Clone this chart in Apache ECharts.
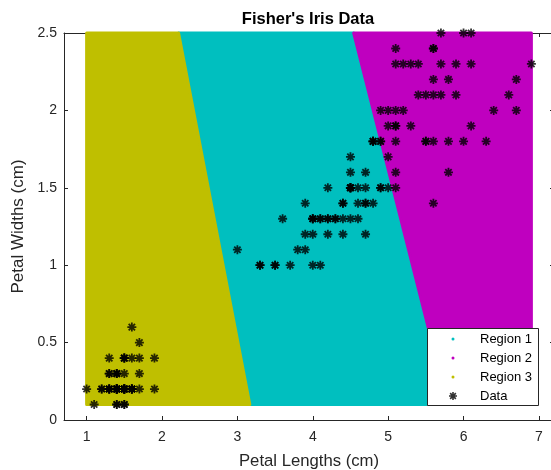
<!DOCTYPE html>
<html>
<head>
<meta charset="utf-8">
<script src="https://cdn.jsdelivr.net/npm/echarts@6/dist/echarts.min.js"></script>
<style>
html,body{margin:0;padding:0;background:#fff;}
#chart{width:551px;height:470px;}
</style>
</head>
<body>
<div id="chart"></div>
<script>
// ---- data ----
var petalLength = [
1.4,1.4,1.3,1.5,1.4,1.7,1.4,1.5,1.4,1.5,1.5,1.6,1.4,1.1,1.2,1.5,1.3,1.4,1.7,1.5,
1.7,1.5,1.0,1.7,1.9,1.6,1.6,1.5,1.4,1.6,1.6,1.5,1.5,1.4,1.5,1.2,1.3,1.4,1.3,1.5,
1.3,1.3,1.3,1.6,1.9,1.4,1.6,1.4,1.5,1.4,
4.7,4.5,4.9,4.0,4.6,4.5,4.7,3.3,4.6,3.9,3.5,4.2,4.0,4.7,3.6,4.4,4.5,4.1,4.5,3.9,
4.8,4.0,4.9,4.7,4.3,4.4,4.8,5.0,4.5,3.5,3.8,3.7,3.9,5.1,4.5,4.5,4.7,4.4,4.1,4.0,
4.4,4.6,4.0,3.3,4.2,4.2,4.2,4.3,3.0,4.1,
6.0,5.1,5.9,5.6,5.8,6.6,4.5,6.3,5.8,6.1,5.1,5.3,5.5,5.0,5.1,5.3,5.5,6.7,6.9,5.0,
5.7,4.9,6.7,4.9,5.7,6.0,4.8,4.9,5.6,5.8,6.1,6.4,5.6,5.1,5.6,6.1,5.6,5.5,4.8,5.4,
5.6,5.1,5.1,5.9,5.7,5.2,5.0,5.2,5.4,5.1
];
var petalWidth = [
0.2,0.2,0.2,0.2,0.2,0.4,0.3,0.2,0.2,0.1,0.2,0.2,0.1,0.1,0.2,0.4,0.4,0.3,0.3,0.3,
0.2,0.4,0.2,0.5,0.2,0.2,0.4,0.2,0.2,0.2,0.2,0.4,0.1,0.2,0.2,0.2,0.2,0.1,0.2,0.2,
0.3,0.3,0.2,0.6,0.4,0.3,0.2,0.2,0.2,0.2,
1.4,1.5,1.5,1.3,1.5,1.3,1.6,1.0,1.3,1.4,1.0,1.5,1.0,1.4,1.3,1.4,1.5,1.0,1.5,1.1,
1.8,1.3,1.5,1.2,1.3,1.4,1.4,1.7,1.5,1.0,1.1,1.0,1.2,1.6,1.5,1.6,1.5,1.3,1.3,1.3,
1.2,1.4,1.2,1.0,1.3,1.2,1.3,1.3,1.1,1.3,
2.5,1.9,2.1,1.8,2.2,2.1,1.7,1.8,1.8,2.5,2.0,1.9,2.1,2.0,2.4,2.3,1.8,2.2,2.3,1.5,
2.3,2.0,2.0,1.8,2.1,1.8,1.8,1.8,2.1,1.6,1.9,2.0,2.2,1.5,1.4,2.3,2.4,1.8,1.8,2.1,
2.4,2.3,1.9,2.3,2.5,2.3,1.9,2.0,2.3,1.8
];
// classification regions (polygon vertices in data units: [length, width])
var region1 = [[3.165,0.1],[5.79,0.1],[4.542,2.5],[2.22,2.5]];
var region2 = [[5.79,0.1],[6.9,0.1],[6.9,2.5],[4.542,2.5]];
var region3 = [[1,0.1],[3.165,0.1],[2.22,2.5],[1,2.5]];
var seriesNames = ['Region 1','Region 2','Region 3','Data'];
var xTicks = [1,2,3,4,5,6,7];
var yTicks = [0,0.5,1,1.5,2,2.5];
var xTickLabels = ['1','2','3','4','5','6','7'];
var yTickLabels = ['0','0.5','1','1.5','2','2.5'];

// ---- styles ----
var C1 = '#00BFBF', C2 = '#BF00BF', C3 = '#BFBF00';
var AX = '#262626';
var FONT = 'Liberation Sans, Arial, Helvetica, sans-serif';
var STAR = 'path://M0 8L20 8L20 12L0 12Z M8 0L12 0L12 20L8 20Z M4.34 1.51L18.49 15.66L15.66 18.49L1.51 4.34Z M4.34 18.49L1.51 15.66L15.66 1.51L18.49 4.34Z';

function regionSeries(name, verts, color){
  return {
    type: 'custom', name: name, z: 2,
    data: verts,
    encode: {x: 0, y: 1},
    itemStyle: {color: color},
    silent: true,
    renderItem: function(params, api){
      if (params.dataIndex !== 0) return;
      var pts = verts.map(function(v){ return api.coord(v); });
      return {
        type: 'polygon',
        shape: {points: pts},
        style: {fill: color, stroke: color, lineWidth: 3, lineJoin: 'round'}
      };
    }
  };
}

var scatterData = petalLength.map(function(l, i){ return [l, petalWidth[i]]; });

var chart = echarts.init(document.getElementById('chart'), null, {renderer: 'canvas'});
function axisCommon(){
  return {
    axisLine: {show: true, onZero: false, lineStyle: {color: AX, width: 1}},
    splitLine: {show: false}
  };
}
var option = {
  animation: false,
  backgroundColor: '#fff',
  title: {
    text: "Fisher's Iris Data", left: 308, top: 11, padding: 0, textAlign: 'center',
    textStyle: {fontFamily: FONT, fontSize: 16.5, fontWeight: 'bold', color: '#000'}
  },
  grid: {left: 64, top: 33, width: 490, height: 387, containLabel: false, outerBoundsMode: 'none'},
  xAxis: [
    Object.assign(axisCommon(), {
      type: 'value', min: 0.7, max: 7.2, position: 'bottom',
      axisTick: {show: true, inside: true, length: 4, customValues: xTicks, lineStyle: {color: AX}},
      axisLabel: {show: true, customValues: xTicks, margin: 10, color: AX, fontFamily: FONT, fontSize: 14,
        formatter: function(v){ return xTickLabels[xTicks.indexOf(v)]; }},
      name: 'Petal Lengths (cm)', nameLocation: 'middle', nameGap: 33,
      nameTextStyle: {fontFamily: FONT, fontSize: 16.7, color: AX}
    }),
    Object.assign(axisCommon(), {
      type: 'value', min: 0.7, max: 7.2, position: 'top',
      axisTick: {show: true, inside: true, length: 4, customValues: xTicks, lineStyle: {color: AX}},
      axisLabel: {show: false}
    })
  ],
  yAxis: [
    Object.assign(axisCommon(), {
      type: 'value', min: 0, max: 2.5, position: 'left',
      axisTick: {show: true, inside: true, length: 4, customValues: yTicks, lineStyle: {color: AX}},
      axisLabel: {show: true, customValues: yTicks, margin: 7, color: AX, fontFamily: FONT, fontSize: 14,
        formatter: function(v){ return yTickLabels[yTicks.indexOf(v)]; }},
      name: 'Petal Widths (cm)', nameLocation: 'middle', nameGap: 32, nameRotate: 90,
      nameTextStyle: {fontFamily: FONT, fontSize: 17, color: AX}
    }),
    Object.assign(axisCommon(), {
      type: 'value', min: 0, max: 2.5, position: 'right',
      axisTick: {show: true, inside: true, length: 4, customValues: yTicks, lineStyle: {color: AX}},
      axisLabel: {show: false}
    })
  ],
  legend: [
    {
      orient: 'vertical', left: 451.5, top: 332.5, padding: 0, align: 'left',
      itemWidth: 3, itemHeight: 3, itemGap: 6,
      textStyle: {fontFamily: FONT, fontSize: 13, color: '#000', padding: [0, 0, 0, 20.5]},
      data: [
        {name: seriesNames[0], icon: 'circle'},
        {name: seriesNames[1], icon: 'circle'},
        {name: seriesNames[2], icon: 'circle'}
      ],
      selectedMode: false, z: 5
    },
    {
      orient: 'vertical', left: 449, top: 389.5, padding: 0, align: 'left',
      itemWidth: 8, itemHeight: 8, itemGap: 6,
      textStyle: {fontFamily: FONT, fontSize: 13, color: '#000', padding: [0, 0, 0, 18]},
      data: [{name: seriesNames[3], icon: STAR}],
      selectedMode: false, z: 5
    }
  ],
  graphic: [{
    type: 'rect', z: 3, silent: true,
    shape: {x: 427.5, y: 328.5, width: 111, height: 77},
    style: {fill: '#fff', stroke: AX, lineWidth: 1}
  }],
  series: [
    regionSeries(seriesNames[0], region1, C1),
    regionSeries(seriesNames[1], region2, C2),
    regionSeries(seriesNames[2], region3, C3),
    {
      type: 'scatter', name: seriesNames[3], z: 3,
      data: scatterData, symbol: STAR, symbolSize: 9,
      itemStyle: {color: '#000'}, silent: true
    }
  ]
};
chart.setOption(option);
</script>
</body>
</html>
